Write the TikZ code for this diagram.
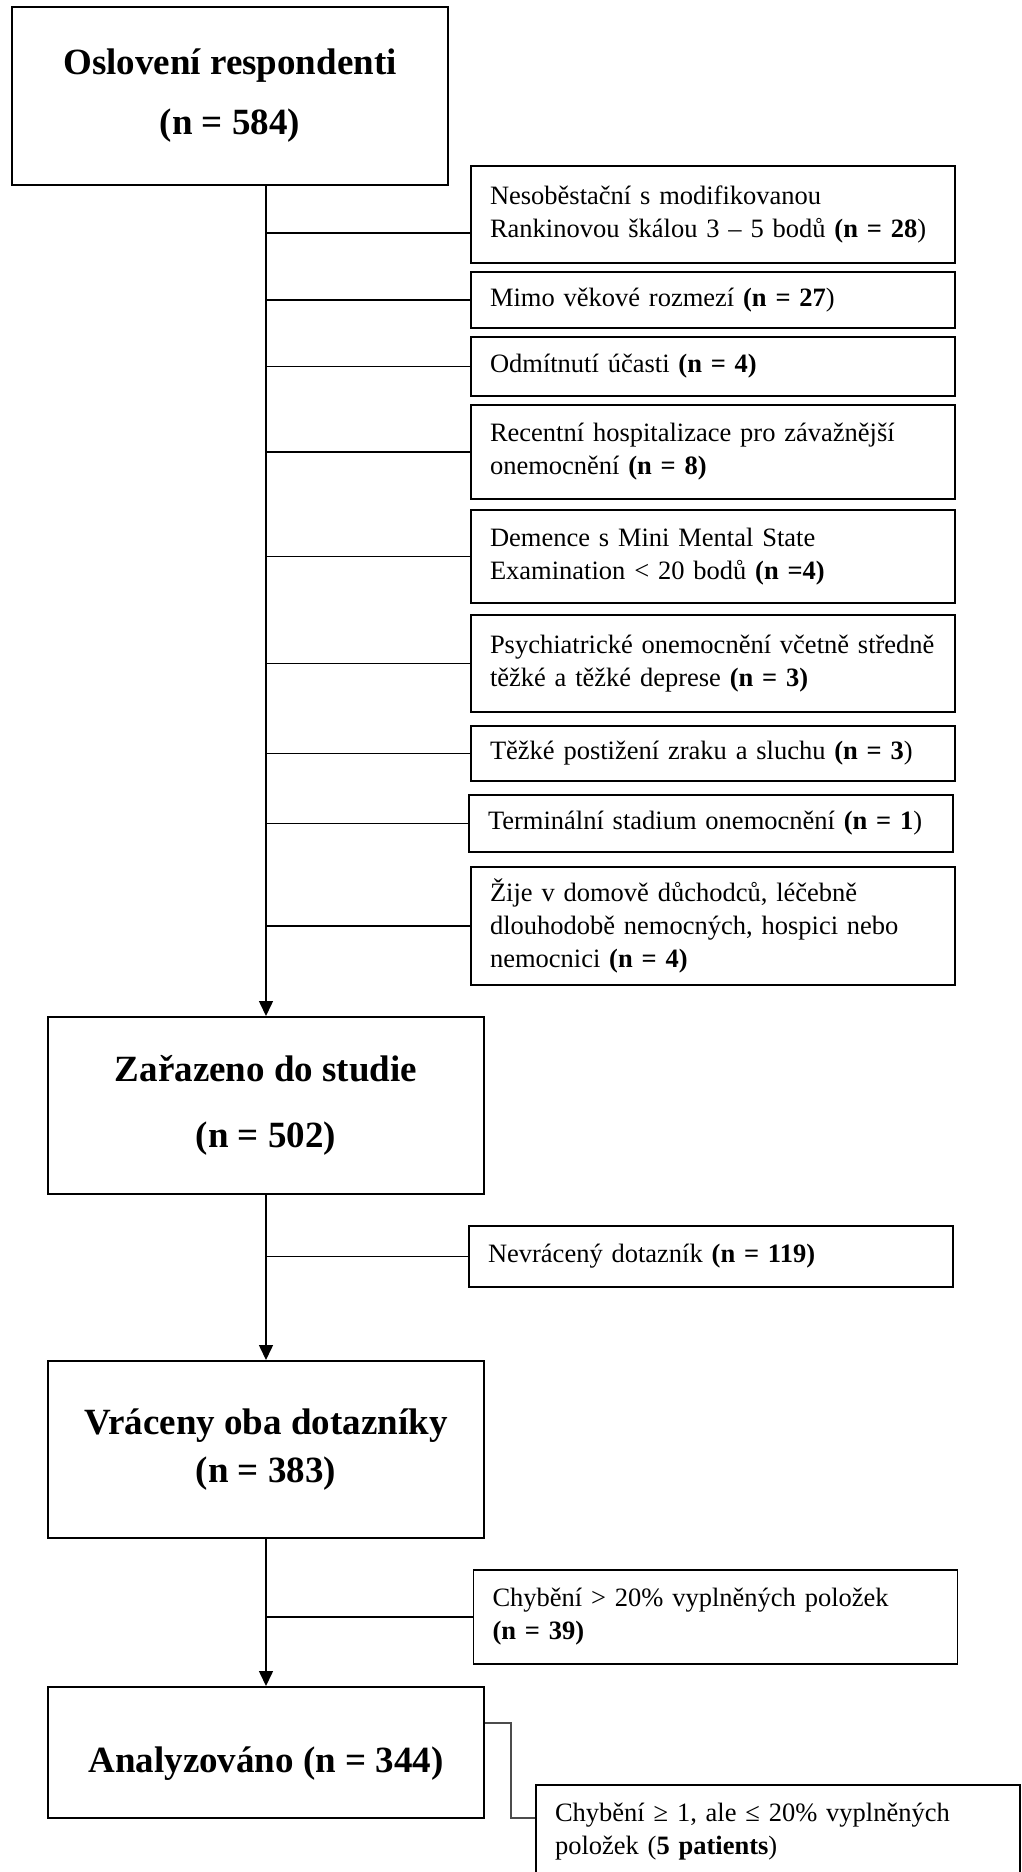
\documentclass[tikz,border=0pt]{standalone}
\usepackage{fontspec}
\setmainfont{Liberation Serif}
\usetikzlibrary{positioning,arrows.meta}

\tikzset{
  mainbox/.style={draw,line width=2pt,minimum width=436pt,inner sep=0pt,align=center,font={\fontsize{37}{60}\selectfont\bfseries}},
  sidebox/.style={draw,line width=1.8pt,text width=446pt,inner xsep=19pt,inner ysep=0pt,align=left,font={\fontsize{26.5}{33}\selectfont}},
  link/.style={line width=1.5pt},
}

\begin{document}
\begin{tikzpicture}[x=1pt,y=-1pt,>={Triangle[length=15pt,width=14pt]}]
\useasboundingbox (0,0) rectangle (1021,1872);
\clip (0,0) rectangle (1021,1872);
% main stages
\node[mainbox,minimum height=178pt] (osl) at (230,96) {Oslovení respondenti\\(n = 584)};
\node[mainbox,minimum height=177pt,font={\fontsize{37}{66}\selectfont\bfseries}] (zar) at (266,1105.5) {Zařazeno do studie\\(n = 502)};
\node[mainbox,minimum height=177pt,font={\fontsize{37}{48}\selectfont\bfseries}] (vra) at (266,1449.5) {Vráceny oba dotazníky\\(n = 383)};
\node[mainbox,minimum height=131pt,text height=48pt,text depth=8pt] (ana) at (266,1752.5) {Analyzováno (n = 344)};
% exclusions
\node[sidebox,minimum height=97pt] (s1) at (713,214.5) {Nesoběstační s modifikovanou\\Rankinovou škálou 3 – 5 bodů \textbf{(n = 28})};
\node[sidebox,minimum height=56pt] (s2) at (713,300) {Mimo věkové rozmezí \textbf{(n = 27})};
\node[sidebox,minimum height=59pt] (s3) at (713,366.5) {Odmítnutí účasti \textbf{(n = 4)}};
\node[sidebox,minimum height=94pt] (s4) at (713,452) {Recentní hospitalizace pro závažnější\\onemocnění \textbf{(n = 8)}};
\node[sidebox,minimum height=93pt] (s5) at (713,556.5) {Demence s Mini Mental State\\Examination < 20 bodů \textbf{(n =4)}};
\node[sidebox,minimum height=97pt] (s6) at (713,663.5) {Psychiatrické onemocnění včetně středně\\těžké a těžké deprese \textbf{(n = 3)}};
\node[sidebox,minimum height=55pt] (s7) at (713,753.5) {Těžké postižení zraku a sluchu \textbf{(n = 3})};
\node[sidebox,minimum height=57pt] (s8) at (711,823.5) {Terminální stadium onemocnění \textbf{(n = 1})};
\node[sidebox,minimum height=118pt] (s9) at (713,926) {Žije v domově důchodců, léčebně\\dlouhodobě nemocných, hospici nebo\\nemocnici \textbf{(n = 4)}};
\node[sidebox,minimum height=61pt] (s10) at (711,1256.5) {Nevrácený dotazník \textbf{(n = 119)}};
\node[sidebox,minimum height=94pt] (s11) at (715.5,1617) {Chybění > 20\% vyplněných položek\\\textbf{(n = 39)}};
\node[sidebox,minimum height=94pt] (s12) at (778,1832) {Chybění ≥ 1, ale ≤ 20\% vyplněných\\položek (\textbf{5 patients})};
% flow
\draw[link,->] (osl.south -| zar.north) -- (zar.north);
\draw[link,->] (zar.south) -- (vra.north);
\draw[link,->] (vra.south) -- (ana.north);
\coordinate (j1) at ([yshift=-18.5pt]s1.west);
\draw[link] (zar.north |- j1) -- (j1);
\foreach \s in {s2,s3,s4,s5,s6,s7,s8,s9}
  \draw[link] (zar.north |- \s.west) -- (\s.west);
\draw[link] (vra.north |- s10.west) -- (s10.west);
\draw[link] (ana.north |- s11.west) -- (s11.west);
\draw[line width=1.2pt,black!70] ([yshift=29.5pt]ana.east) -- ++(26,0) |- ([yshift=14pt]s12.west);
\end{tikzpicture}
\end{document}
